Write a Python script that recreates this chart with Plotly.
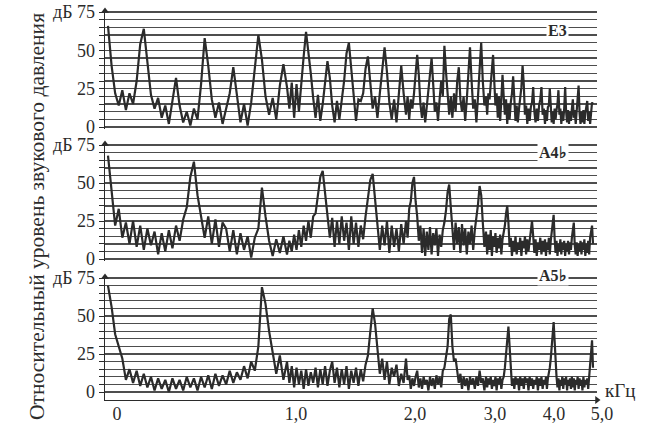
import numpy as np
import plotly.graph_objects as go

# ---------------- data ----------------
FREQ_STEP_KHZ = 0.02
N_BINS = 251
freq_khz = np.round(np.arange(N_BINS) * FREQ_STEP_KHZ, 3)

E3_DB = [
    66, 40, 22, 14, 24, 11, 22, 15, 30, 54,
    64, 42, 21, 12, 19, 6, 14, 2, 18, 32,
    14, 3, 10, 1, 12, 5, 28, 58, 40, 18,
    6, 16, 2, 13, 22, 39, 20, 3, 15, 1,
    16, 37, 60, 44, 20, 8, 19, 5, 27, 41,
    26, 12, 29, 6, 28, 10, 30, 46, 62, 50,
    35, 19, 6, 21, 4, 15, 28, 43, 32, 14,
    3, 17, 5, 16, 30, 48, 55, 38, 20, 4,
    18, 17, 22, 38, 46, 30, 12, 20, 6, 22,
    35, 52, 36, 16, 5, 18, 3, 20, 40, 22,
    8, 20, 5, 18, 12, 22, 36, 47, 34, 15,
    6, 16, 3, 14, 20, 36, 45, 28, 10, 16,
    4, 18, 30, 20, 53, 36, 20, 8, 20, 6,
    22, 10, 30, 39, 18, 10, 20, 4, 18, 36,
    52, 30, 12, 18, 3, 20, 40, 55, 30, 14,
    20, 8, 22, 18, 28, 38, 47, 30, 14, 22,
    6, 20, 4, 18, 34, 20, 8, 18, 2, 15,
    5, 16, 22, 33, 16, 4, 14, 3, 12, 18,
    26, 40, 28, 8, 14, 2, 12, 4, 13, 16,
    26, 10, 3, 12, 4, 14, 18, 26, 8, 12,
    2, 11, 4, 13, 14, 25, 12, 3, 10, 2,
    12, 5, 11, 15, 24, 8, 12, 2, 10, 4,
    12, 26, 10, 3, 11, 2, 10, 4, 12, 18,
    6, 11, 2, 10, 13, 27, 9, 2, 10, 3,
    11, 2, 9, 12, 17, 4, 10, 2, 9, 16,
    15,
]

A4B_DB = [
    68, 45, 22, 33, 14, 24, 10, 25, 8, 22,
    6, 20, 9, 18, 3, 17, 5, 19, 7, 22,
    12, 26, 34, 54, 64, 42, 27, 14, 28, 10,
    26, 8, 24, 20, 5, 19, 3, 17, 6, 15,
    1, 14, 20, 47, 28, 12, 2, 13, 4, 15,
    3, 12, 5, 16, 6, 19, 8, 22, 12, 25,
    14, 28, 30, 42, 54, 58, 42, 30, 14, 27,
    8, 25, 10, 28, 12, 24, 6, 28, 10, 24,
    8, 22, 13, 28, 40, 52, 56, 38, 24, 6,
    22, 9, 25, 4, 22, 8, 20, 5, 23, 10,
    25, 14, 33, 38, 50, 54, 38, 28, 12, 22,
    4, 20, 2, 18, 6, 21, 3, 17, 9, 20,
    2, 16, 8, 19, 24, 32, 44, 49, 34, 22,
    6, 24, 10, 21, 4, 23, 9, 20, 3, 18,
    10, 22, 6, 19, 26, 36, 48, 42, 24, 8,
    18, 3, 16, 6, 19, 2, 15, 8, 17, 4,
    14, 7, 16, 3, 13, 17, 22, 30, 35, 24,
    8, 14, 2, 12, 5, 15, 3, 11, 6, 14,
    2, 12, 7, 15, 3, 13, 5, 12, 17, 25,
    15, 4, 13, 2, 11, 6, 14, 3, 12, 5,
    13, 2, 11, 6, 14, 3, 12, 18, 26, 29,
    14, 4, 12, 2, 10, 5, 13, 3, 11, 6,
    12, 2, 10, 5, 12, 3, 11, 6, 14, 20,
    24, 9, 3, 11, 2, 10, 5, 12, 3, 11,
    6, 13, 2, 10, 4, 12, 3, 14, 19, 22,
    10,
]

A5B_DB = [
    70, 56, 38, 30, 22, 8, 15, 6, 14, 4,
    12, 3, 10, 1, 9, 2, 8, 0, 9, 2,
    8, 1, 10, 3, 9, 1, 10, 3, 11, 2,
    12, 4, 11, 5, 14, 6, 13, 8, 17, 9,
    20, 14, 30, 69, 58, 40, 26, 12, 24, 8,
    20, 6, 17, 3, 16, 5, 14, 2, 15, 4,
    13, 6, 16, 3, 15, 5, 17, 4, 14, 20,
    6, 16, 3, 15, 5, 17, 2, 14, 6, 16,
    4, 15, 7, 18, 24, 42, 55, 45, 28, 12,
    22, 8, 20, 5, 16, 10, 18, 4, 12, 6,
    22, 8, 11, 2, 9, 4, 10, 14, 3, 9,
    2, 10, 5, 8, 1, 10, 4, 9, 2, 11,
    5, 10, 3, 14, 16, 22, 30, 48, 51, 30,
    20, 22, 14, 6, 12, 2, 10, 4, 9, 1,
    10, 5, 9, 2, 10, 4, 14, 6, 9, 1,
    10, 3, 9, 5, 10, 2, 8, 4, 10, 1,
    9, 5, 10, 2, 8, 10, 16, 24, 36, 43,
    30, 12, 4, 9, 2, 10, 5, 9, 1, 10,
    4, 9, 2, 10, 6, 9, 1, 10, 4, 9,
    2, 8, 5, 10, 1, 9, 4, 10, 2, 8,
    5, 10, 2, 9, 12, 16, 22, 30, 40, 46,
    34, 18, 10, 3, 9, 1, 8, 4, 10, 2,
    9, 5, 10, 1, 8, 4, 9, 2, 10, 3,
    9, 1, 8, 5, 10, 2, 9, 4, 8, 1,
    10, 3, 8, 5, 9, 2, 10, 18, 28, 34,
    16,
]

PANEL_LABELS = ["E3", "A4\u266d", "A5\u266d"]
PANEL_LEVELS = [E3_DB, A4B_DB, A5B_DB]

Y_TICKS = list(range(0, 80, 5))
Y_TICK_TEXT = ["0", "", "", "", "", "25", "", "", "", "", "50", "", "", "", "", "\u0434\u0411 75"]

X_TICKS_KHZ = [0, 1, 2, 3, 4, 5]
X_TICK_TEXT = ["0", "1,0", "2,0", "3,0", "4,0", "5,0"]
# printed, non-linear frequency scale of the original: relative position of each kHz tick
X_SCALE = [0, 179, 298, 378, 437, 485]

Y_TITLE = "\u041e\u0442\u043d\u043e\u0441\u0438\u0442\u0435\u043b\u044c\u043d\u044b\u0439 \u0443\u0440\u043e\u0432\u0435\u043d\u044c \u0437\u0432\u0443\u043a\u043e\u0432\u043e\u0433\u043e \u0434\u0430\u0432\u043b\u0435\u043d\u0438\u044f"
X_UNIT = "\u043a\u0413\u0446"

for lv in PANEL_LEVELS:
    assert len(lv) == N_BINS

# ---------------- layout ----------------
W, H = 650, 436
AX_LEFT, AX_RIGHT, AX_TOP, AX_BOTTOM = 105, 597, 8, 400   # plot area, px
ML, MT = AX_LEFT, AX_TOP
MR, MB = W - AX_RIGHT, H - AX_BOTTOM
PW, PH = AX_RIGHT - AX_LEFT, AX_BOTTOM - AX_TOP
X_RANGE = [-3, -3 + PW]  # one scale unit per pixel


def paper_x(px):
    return (px - AX_LEFT) / PW


def paper_y(py):
    return (AX_BOTTOM - py) / PH


FONT = "Liberation Serif, Times New Roman, serif"
INK = "#2b2b2b"
GRID = "#4d4d4d"

# pixel rows of the 0 dB and 75 dB lines for each panel
PANEL_PX = [(127, 12), (259, 145), (392, 278)]
Y_TOP = 76.5


def panel_axis(p0, p75, bottom_px=None):
    s = (p0 - p75) / 75.0
    lo = -1.5 if bottom_px is None else -(bottom_px - p0) / s
    pb = p0 - lo * s
    pt = p0 - Y_TOP * s
    dom = [max(0.0, paper_y(pb)), min(1.0, paper_y(pt))]
    return [lo, Y_TOP], dom


x_disp = np.interp(freq_khz, X_TICKS_KHZ, X_SCALE)
x_tick_disp = np.interp(X_TICKS_KHZ, X_TICKS_KHZ, X_SCALE)

fig = go.Figure()
axes = {}
for k, (levels, label, (p0, p75)) in enumerate(zip(PANEL_LEVELS, PANEL_LABELS, PANEL_PX)):
    yname = "y" if k == 0 else f"y{k + 1}"
    rng, dom = panel_axis(p0, p75, AX_BOTTOM if k == 2 else None)
    fig.add_trace(go.Scatter(
        x=x_disp, y=levels, yaxis=yname, mode="lines",
        line=dict(color=INK, width=2.2), hoverinfo="skip", showlegend=False))
    # arrow head on top of the level axis
    fig.add_trace(go.Scatter(
        x=[X_RANGE[0]], y=[75.6], yaxis=yname, mode="markers",
        marker=dict(symbol="triangle-up", size=7, color=INK),
        cliponaxis=False, hoverinfo="skip", showlegend=False))
    key = "yaxis" if k == 0 else f"yaxis{k + 1}"
    axes[key] = dict(
        domain=dom, range=rng, anchor="x", automargin=False,
        tickmode="array", tickvals=Y_TICKS, ticktext=Y_TICK_TEXT,
        ticks="outside", ticklen=5, tickwidth=1, tickcolor=INK,
        ticklabeloverflow="allow",
        showgrid=True, gridcolor=GRID, gridwidth=1.4,
        zeroline=False, showline=True, linecolor=INK, linewidth=1.4,
        tickfont=dict(family=FONT, size=18, color=INK), fixedrange=True)
    fig.add_annotation(
        x=paper_x(569), y=paper_y(p0 - 70 * (p0 - p75) / 75.0),
        xref="paper", yref="paper",
        text=f"<b>{label}</b>", showarrow=False, bgcolor="white",
        borderpad=1, font=dict(family=FONT, size=16, color=INK))

# arrow head at the end of the frequency axis
fig.add_trace(go.Scatter(
    x=[X_RANGE[1]], y=[axes["yaxis3"]["range"][0]], yaxis="y3", mode="markers",
    marker=dict(symbol="triangle-right", size=7, color=INK),
    cliponaxis=False, hoverinfo="skip", showlegend=False))

fig.update_layout(
    width=W, height=H,
    margin=dict(l=ML, r=MR, t=MT, b=MB, pad=0, autoexpand=False),
    paper_bgcolor="white", plot_bgcolor="white",
    xaxis=dict(
        range=X_RANGE, anchor="y3", automargin=False, tickmode="array",
        tickvals=x_tick_disp, ticktext=X_TICK_TEXT, ticks="",
        ticklabelshift=9, ticklabelstandoff=-3, ticklabeloverflow="allow",
        showgrid=False, zeroline=False, showline=True,
        linecolor=INK, linewidth=1.4,
        tickfont=dict(family=FONT, size=18, color=INK), fixedrange=True),
    **axes,
)

fig.add_annotation(
    x=paper_x(23), y=paper_y(217), xref="paper", yref="paper",
    text=Y_TITLE, textangle=-90, showarrow=False,
    font=dict(family=FONT, size=21.5, color=INK))
fig.add_annotation(
    x=paper_x(603), y=paper_y(390), xref="paper", yref="paper",
    text=X_UNIT, showarrow=False, xanchor="left", yanchor="middle",
    font=dict(family=FONT, size=19, color=INK))

# the page body's default 8px margin would shift the whole figure
fig.write_html(
    "out.html",
    config={"displayModeBar": False, "staticPlot": True},
    post_script="document.body.style.margin='0px';",
)
